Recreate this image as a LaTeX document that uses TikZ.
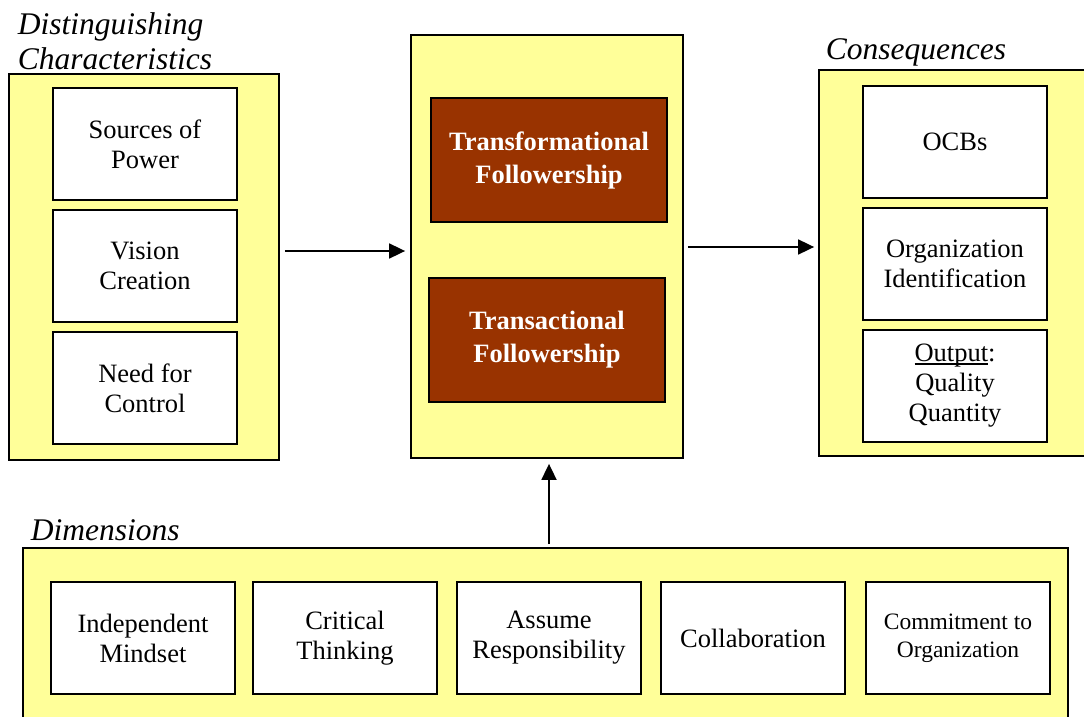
\documentclass[tikz,border=0pt]{standalone}
\usepackage{fontspec}
\setmainfont{Liberation Serif}
\usetikzlibrary{arrows.meta}
\definecolor{paleyellow}{HTML}{FFFF99}
\definecolor{rust}{HTML}{993300}
\newcommand{\ulword}[1]{\setbox0\hbox{#1}\rlap{\rule[-3pt]{\wd0}{1.6pt}}\box0}
\begin{document}
\begin{tikzpicture}[x=1pt, y=-1pt, line width=1.8pt, >={Triangle[length=16pt,width=15pt]}]
\tikzset{panel/.style={draw, fill=paleyellow, rectangle, inner sep=0pt},
  itembox/.style={draw, fill=white, rectangle, align=center, minimum width=184pt, minimum height=112pt, inner sep=0pt, font=\fontsize{26.5}{30}\selectfont},
  followbox/.style={draw, fill=rust, text=white, rectangle, align=center, minimum width=236pt, minimum height=124pt, inner sep=0pt, font=\fontsize{26.5}{33}\selectfont\bfseries},
  heading/.style={anchor=west, align=left, inner sep=0pt, font=\fontsize{31.5}{35}\selectfont\itshape}}
\useasboundingbox (0,0) rectangle (1084,717);
\clip (0,0) rectangle (1084,717);
\node[panel, minimum width=270pt, minimum height=386pt] (char) at (144,267) {};
\node[panel, minimum width=272pt, minimum height=423pt] (follow) at (547,246.5) {};
\node[panel, minimum width=272pt, minimum height=386pt] (cons) at (955,263) {};
\node[panel, minimum width=1045pt, minimum height=190pt] (dims) at (545.5,643) {};
\node[heading] (charlabel) at (17,41) {Distinguishing\\Characteristics};
\node[heading] (conslabel) at (825,52) {Consequences};
\node[heading] (dimslabel) at (30,530) {Dimensions};
\node[itembox] (power) at (145,144) {Sources of\\Power};
\node[itembox] (vision) at (145,266) {Vision\\Creation};
\node[itembox] (control) at (145,388) {Need for\\Control};
\node[followbox] (transform) at (549,160) {Transformational\\Followership};
\node[followbox] (transact) at (547,340) {Transactional\\Followership};
\node[itembox] (ocb) at (955,142) {OCBs};
\node[itembox] (ident) at (955,264) {Organization\\Identification};
\node[itembox] (output) at (955,386) {\ulword{Output}:\\Quality\\Quantity};
\node[itembox] (mindset) at (143,638) {Independent\\Mindset};
\node[itembox] (critical) at (345,638) {Critical\\Thinking};
\node[itembox] (respons) at (549,638) {Assume\\Responsibility};
\node[itembox] (collab) at (753,638) {Collaboration};
\node[itembox, font=\fontsize{23.5}{28}\selectfont] (commit) at (958,638) {Commitment to\\Organization};
\draw[->, shorten <=5pt, shorten >=5pt] (char.east |- 0,251) -- (follow.west |- 0,251);
\draw[->, shorten <=4pt, shorten >=4pt] (follow.east |- 0,247) -- (cons.west |- 0,247);
\draw[->, shorten <=3pt, shorten >=5pt] (dims.north -| 549,0) -- (follow.south -| 549,0);
\end{tikzpicture}
\end{document}
